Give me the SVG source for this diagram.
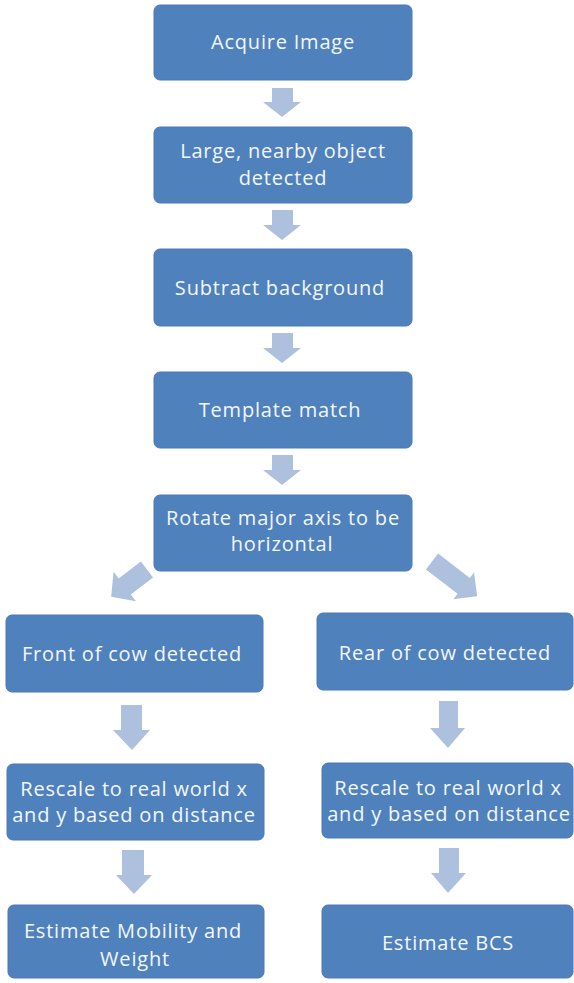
<svg xmlns="http://www.w3.org/2000/svg" width="574" height="983" viewBox="0 0 574 983">
<style>
.box{fill:#4f81bd;stroke:#4a7ab5;stroke-width:1}
.arr{fill:#adc0dd}
text{font-family:"Open Sans","Liberation Sans",sans-serif;font-size:20px;letter-spacing:0.8px;fill:#f4f7fc;text-anchor:middle;dominant-baseline:central}
</style>
<rect width="574" height="983" fill="#ffffff"/>
<g id="connectors">
<polygon class="arr" points="272,88 293,88 293,102 301,102 282,117 263,102 272,102"/>
<polygon class="arr" points="272,210 293,210 293,225 301,225 282,240 263,225 272,225"/>
<polygon class="arr" points="272,333 293,333 293,348 301,348 282,363 263,348 272,348"/>
<polygon class="arr" points="272,455 293,455 293,470 301,470 282,485 263,470 272,470"/>
<polygon class="arr" transform="translate(147,569.5) rotate(142.7)" points="0,-10 28,-10 28,-18.5 45,0 28,18.5 28,10 0,10"/>
<polygon class="arr" transform="translate(432,561.5) rotate(37.6)" points="0,-10 40,-10 40,-17 57,0 40,17 40,10 0,10"/>
<polygon class="arr" points="121,705 142,705 142,730 150,730 132,750 113,730 121,730"/>
<polygon class="arr" points="122,850 144,850 144,875 152,875 134,894 116,875 122,875"/>
<polygon class="arr" points="439,701 458,701 458,728 465,728 448,748 430,728 439,728"/>
<polygon class="arr" points="439,848 459,848 459,873 466,873 448,893 431,873 439,873"/>
</g>
<g id="n1"><rect class="box" x="154" y="5" width="258" height="75" rx="6"/><text x="283" y="41">Acquire Image</text></g>
<g id="n2"><rect class="box" x="154" y="127" width="258" height="76" rx="6"/><text x="283" y="150">Large, nearby object</text><text x="283" y="177">detected</text></g>
<g id="n3"><rect class="box" x="154" y="249" width="258" height="77" rx="6"/><text x="280" y="287">Subtract background</text></g>
<g id="n4"><rect class="box" x="154" y="372" width="258" height="76" rx="6"/><text x="280" y="409">Template match</text></g>
<g id="n5"><rect class="box" x="154" y="495" width="258" height="76" rx="6"/><text x="283" y="517">Rotate major axis to be</text><text x="282" y="543">horizontal</text></g>
<g id="n6"><rect class="box" x="6" y="615" width="257" height="77" rx="6"/><text x="132" y="653">Front of cow detected</text></g>
<g id="n7"><rect class="box" x="317" y="613" width="256" height="77" rx="6"/><text x="445" y="652">Rear of cow detected</text></g>
<g id="n8"><rect class="box" x="7" y="764" width="257" height="76" rx="6"/><text x="134" y="788">Rescale to real world x</text><text x="134" y="814">and y based on distance</text></g>
<g id="n9"><rect class="box" x="322" y="763" width="251" height="75" rx="6"/><text x="448" y="787">Rescale to real world x</text><text x="449" y="813">and y based on distance</text></g>
<g id="n10"><rect class="box" x="8" y="905" width="256" height="73" rx="6"/><text x="133" y="930">Estimate Mobility and</text><text x="135" y="958">Weight</text></g>
<g id="n11"><rect class="box" x="322" y="905" width="251" height="73" rx="6"/><text x="448" y="942">Estimate BCS</text></g>
</svg>
